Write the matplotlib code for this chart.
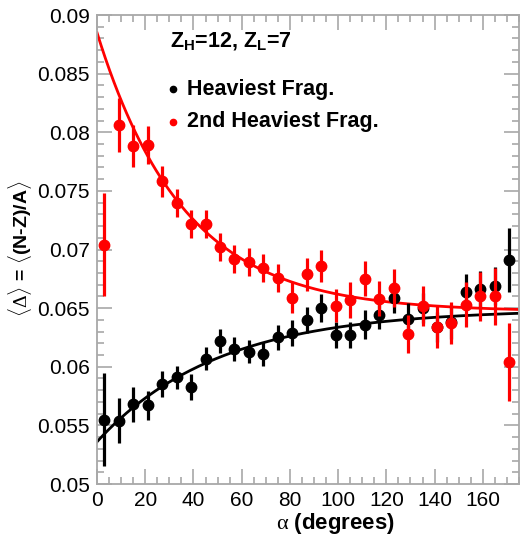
import numpy as np
import matplotlib
matplotlib.use('Agg')
import matplotlib.pyplot as plt
from matplotlib.ticker import MultipleLocator

plt.rcParams['font.family'] = ['Liberation Sans', 'DejaVu Sans']
plt.rcParams['mathtext.fontset'] = 'custom'
plt.rcParams['mathtext.rm'] = 'Liberation Serif'
plt.rcParams['mathtext.bf'] = 'Liberation Sans:bold'
plt.rcParams['mathtext.it'] = 'Liberation Sans:italic'

# bin centres (degrees)
alpha = [3, 9, 15, 21, 27, 33, 39, 45, 51, 57, 63, 69, 75, 81, 87, 93, 99,
         105, 111, 117, 123, 129, 135, 141, 147, 153, 159, 165, 171]

# heaviest fragment
heavy = [0.0555, 0.0554, 0.0568, 0.0567, 0.0585, 0.0591, 0.0583, 0.0607, 0.0622,
         0.0615, 0.0613, 0.0611, 0.0625, 0.0629, 0.0640, 0.0650, 0.0627, 0.0627,
         0.0636, 0.0644, 0.0659, 0.0641, 0.0650, 0.0634, 0.0638, 0.0664, 0.0666,
         0.0669, 0.0691]
heavy_err = [0.0040, 0.0019, 0.0015, 0.0012, 0.0011, 0.0010, 0.0011, 0.0010, 0.0010,
             0.0010, 0.0010, 0.0010, 0.0011, 0.0011, 0.0011, 0.0012, 0.0011, 0.0011,
             0.0012, 0.0012, 0.0013, 0.0013, 0.0013, 0.0013, 0.0014, 0.0015, 0.0016,
             0.0016, 0.0027]

# 2nd heaviest fragment
second = [0.0704, 0.0806, 0.0788, 0.0789, 0.0758, 0.0740, 0.0722, 0.0722, 0.0702,
          0.0692, 0.0689, 0.0684, 0.0676, 0.0659, 0.0679, 0.0686, 0.0652, 0.0657,
          0.0675, 0.0658, 0.0667, 0.0628, 0.0652, 0.0634, 0.0637, 0.0653, 0.0660,
          0.0660, 0.0604]
second_err = [0.0044, 0.0023, 0.0018, 0.0016, 0.0013, 0.0012, 0.0012, 0.0012, 0.0012,
              0.0012, 0.0012, 0.0012, 0.0012, 0.0013, 0.0014, 0.0014, 0.0014, 0.0015,
              0.0015, 0.0015, 0.0016, 0.0016, 0.0017, 0.0018, 0.0018, 0.0019, 0.0021,
              0.0024, 0.0033]

# exponential fit parameters  p0 + p1*exp(-x/p2)
fit_heavy = (0.0649, -0.0113, 50.0)
fit_second = (0.0647, 0.0238, 36.0)

x_max = 175
frame_col = '#a8a8a8'

fig = plt.figure(figsize=(5.22, 5.42), dpi=100)
ax = fig.add_axes([97/522, 1-484/542, 422/522, 469/542])

xf = np.linspace(0, x_max, 300)
for p, c in [(fit_heavy, 'black'), (fit_second, 'red')]:
    ax.plot(xf, p[0] + p[1]*np.exp(-xf/p[2]), color=c, lw=2.0, zorder=2)

ax.errorbar(alpha, heavy, yerr=heavy_err, fmt='o', color='black', ms=7.5,
            elinewidth=2.3, capsize=0, zorder=3)
ax.errorbar(alpha, second, yerr=second_err, fmt='o', color='red', ms=7.5,
            elinewidth=2.3, capsize=0, zorder=4)

ax.set_xlim(0, x_max)
ax.set_ylim(0.05, 0.09)
ax.xaxis.set_major_locator(MultipleLocator(20))
ax.xaxis.set_minor_locator(MultipleLocator(5))
ax.yaxis.set_major_locator(MultipleLocator(0.005))
ax.yaxis.set_minor_locator(MultipleLocator(0.001))
ax.set_yticks(np.arange(0.05, 0.0901, 0.005))
ax.set_yticklabels(['0.05', '0.055', '0.06', '0.065', '0.07', '0.075', '0.08', '0.085', '0.09'])
ax.tick_params(which='both', direction='in', top=True, right=True,
               color=frame_col, width=1.2, labelsize=15, pad=5)
ax.tick_params(which='major', length=11)
ax.tick_params(which='minor', length=5)
for s in ax.spines.values():
    s.set_color(frame_col)
    s.set_linewidth(1.3)

fig.text(395/522, 1-524/542, r'$\mathrm{\alpha}$ (degrees)', ha='right', va='center',
         fontsize=16, fontweight='bold')
fig.text(20/522, 1-249/542, r'$\langle\Delta\rangle$ = $\langle$(N-Z)/A$\rangle$',
         rotation=90, ha='center', va='center', fontsize=14, fontweight='bold')

ax.text(0.173, 0.93, r'$\mathbf{Z_{H}}$=12, $\mathbf{Z_{L}}$=7', transform=ax.transAxes,
        fontsize=15.5, fontweight='bold', va='baseline')
ax.plot([0.18], [0.842], 'o', color='black', ms=4.5, transform=ax.transAxes)
ax.plot([0.18], [0.772], 'o', color='red', ms=4.5, transform=ax.transAxes)
ax.text(0.213, 0.842, 'Heaviest Frag.', transform=ax.transAxes, fontsize=15.5,
        fontweight='bold', va='center')
ax.text(0.213, 0.772, '2nd Heaviest Frag.', transform=ax.transAxes, fontsize=15.5,
        fontweight='bold', va='center')

fig.savefig('out.png', dpi=100)
